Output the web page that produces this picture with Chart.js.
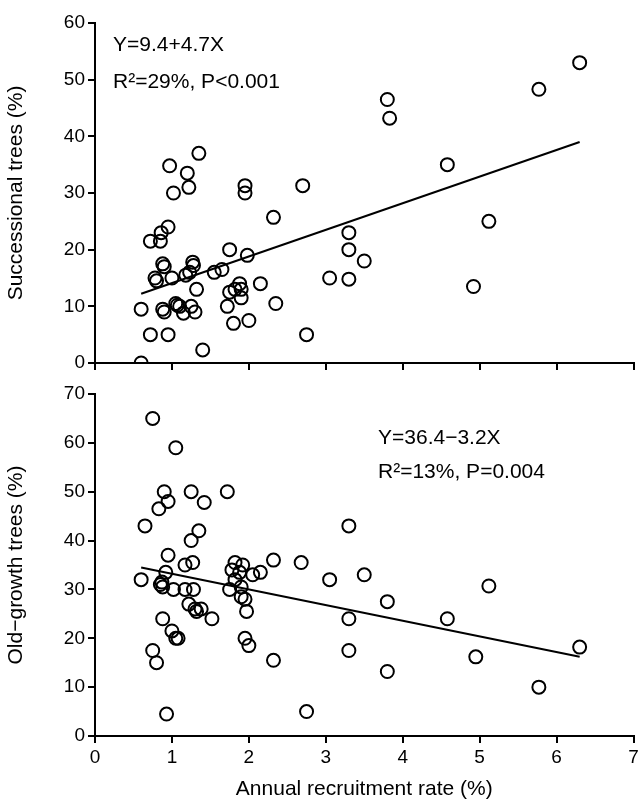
<!DOCTYPE html><html><head><script src="https://cdn.jsdelivr.net/npm/chart.js@4"></script>
<style>body{margin:0;background:#fff;width:642px;height:806px;position:relative;overflow:hidden}canvas{position:absolute;left:0}</style></head><body>
<div style="position:absolute;left:0;top:0;width:642px;height:380px"><canvas id="c1"></canvas></div>
<div style="position:absolute;left:0;top:370px;width:642px;height:436px"><canvas id="c2"></canvas></div>
<script>
const topX=[0.6,0.6,0.72,0.72,0.78,0.8,0.85,0.86,0.88,0.9,0.88,0.9,0.95,0.95,0.97,1.0,1.02,1.05,1.07,1.1,1.15,1.18,1.2,1.22,1.23,1.25,1.27,1.28,1.3,1.32,1.35,1.4,1.55,1.65,1.72,1.75,1.75,1.8,1.82,1.88,1.9,1.9,1.95,1.95,1.98,2.0,2.15,2.32,2.35,2.7,2.75,3.05,3.3,3.3,3.3,3.5,3.8,3.83,4.58,4.92,5.12,5.77,6.3];
const topY=[0,9.5,5,21.5,15,14.5,21.5,23,17.5,17,9.5,9,5,24,34.8,15,30,10.5,10.2,10,8.8,15.5,33.5,31,16,10,17.8,17.2,9,13,37,2.3,16,16.5,10,12.5,20,7,13,14,13,11.5,31.3,30,19,7.5,14,25.7,10.5,31.3,5,15,23,20,14.8,18,46.5,43.2,35,13.5,25,48.3,53];
const botX=[0.6,0.65,0.75,0.75,0.8,0.83,0.85,0.87,0.88,0.88,0.9,0.92,0.95,0.95,0.93,1.0,1.02,1.05,1.05,1.08,1.17,1.17,1.22,1.25,1.25,1.27,1.28,1.3,1.32,1.35,1.38,1.42,1.52,1.72,1.75,1.78,1.82,1.82,1.88,1.9,1.92,1.9,1.95,1.95,1.97,2.0,2.05,2.15,2.32,2.32,2.68,2.75,3.05,3.3,3.3,3.3,3.5,3.8,3.8,4.58,4.95,5.12,5.77,6.3];
const botY=[32,43,65,17.5,15,46.5,31,31.5,30.5,24,50,33.5,48,37,4.5,21.5,30,59,20,20,35,30,27,50,40,35.5,30,26,25.5,42,26,47.8,24,50,30,34,35.5,32,33.5,30.5,35,28.5,28,20,25.5,18.5,33,33.5,36,15.5,35.5,5,32,43,24,17.5,33,27.5,13.2,24,16.2,30.7,10,18.2];
const topFit=[9.4,4.7], botFit=[36.4,-3.2], fitRange=[0.6,6.3];
const F='"Liberation Sans", Arial, sans-serif';
function pts(xs,ys){return xs.map((x,i)=>({x,y:ys[i]}));}
function line(f){return fitRange.map(x=>({x,y:f[0]+f[1]*x}));}
function mk(id,xs,ys,fit,yMax,yStep,xMax,yTitle,showX,padTop,xH,texts){
 new Chart(document.getElementById(id),{type:'scatter',
 data:{datasets:[{data:pts(xs,ys),pointRadius:6.5,pointBorderWidth:2,borderColor:'#000',backgroundColor:'transparent',pointStyle:'circle'},
 {type:'line',data:line(fit),borderColor:'#000',borderWidth:2,pointRadius:0,fill:false}]},
 options:{animation:false,responsive:true,maintainAspectRatio:false,layout:{padding:{top:padTop,right:0,left:0,bottom:0}},
 plugins:{legend:{display:false},tooltip:{enabled:false}},
 scales:{x:{type:'linear',min:0,max:xMax,afterFit:a=>{a.height=xH},ticks:{stepSize:1,display:showX,color:'#000',font:{family:F,size:19}},
   border:{color:'#000',width:2},grid:{drawOnChartArea:false,color:'#000',tickLength:7,lineWidth:2},
   title:{display:showX,text:'Annual recruitment rate (%)',color:'#000',font:{family:F,size:21}}},
  y:{min:0,max:yMax,afterFit:a=>{a.width=95},ticks:{stepSize:yStep,color:'#000',font:{family:F,size:19}},
   border:{color:'#000',width:2},grid:{drawOnChartArea:false,color:'#000',tickLength:7,lineWidth:2},
   title:{display:true,text:yTitle,color:'#000',font:{family:F,size:21}}}}},
 plugins:[{id:'t',afterDraw(c){const x=c.ctx;x.save();x.fillStyle='#000';x.font='21px '+F;x.textBaseline='middle';texts.forEach(t=>x.fillText(t[0],t[1],t[2]));x.restore();}}]});
}
mk('c1',topX,topY,topFit,60,10,7,'Successional trees (%)',false,23,17,[['Y=9.4+4.7X',113,45],['R²=29%, P<0.001',113,82]]);
mk('c2',botX,botY,botFit,70,10,7,'Old−growth trees (%)',true,24,70,[['Y=36.4−3.2X',378,68],['R²=13%, P=0.004',378,102]]);
</script></body></html>
